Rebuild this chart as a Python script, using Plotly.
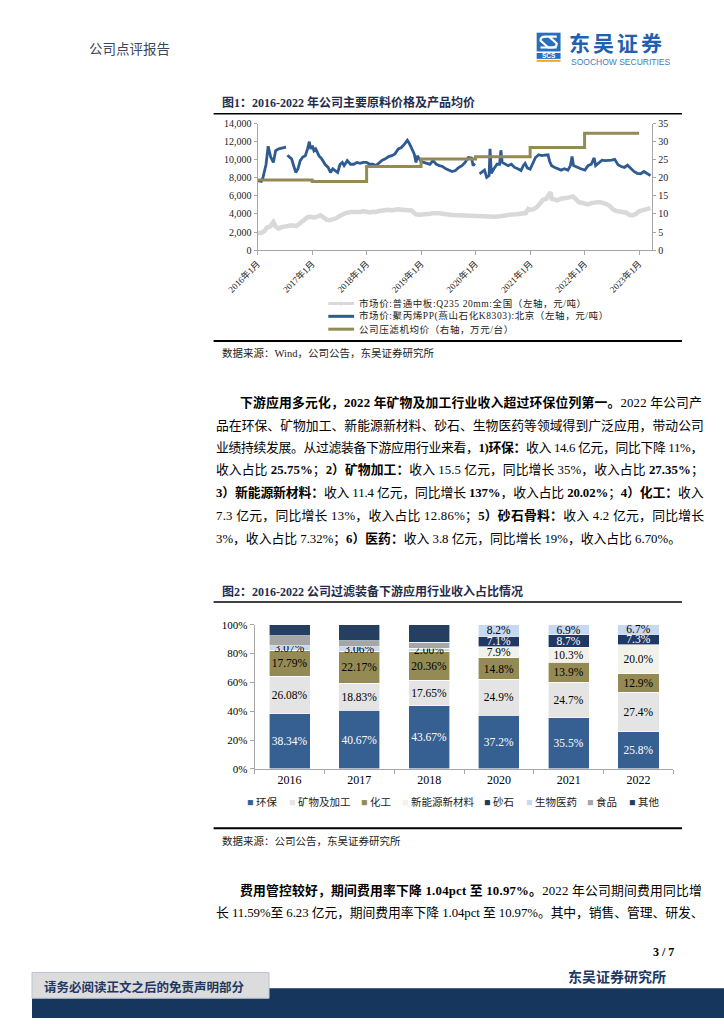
import re
import plotly.graph_objects as go

W, H = 724, 1024
SERIF = "Liberation Serif, Noto Sans CJK SC, serif"
CJK = "Noto Sans CJK SC, sans-serif"
SANS = "Liberation Sans, Arial, sans-serif"

# ---------------- Figure 1 data ----------------
pp_dates = [
    '2016-01-01', '2016-01-26', '2016-02-06', '2016-02-27', '2016-03-12', '2016-03-29', '2016-04-16',
    '2016-05-01', '2016-05-22', '2016-06-12', '2016-07-10', '2016-07-15', '2016-07-19', '2016-08-16',
    '2016-08-27', '2016-09-13', '2016-09-28', '2016-10-13', '2016-10-30', '2016-11-16', '2016-12-01',
    '2016-12-13', '2016-12-22',
    '2017-01-03', '2017-01-13', '2017-01-25', '2017-02-15', '2017-03-06', '2017-03-28', '2017-04-18',
    '2017-05-04', '2017-05-19', '2017-06-04', '2017-06-21', '2017-07-07', '2017-07-22', '2017-08-03',
    '2017-08-24', '2017-09-15', '2017-10-06', '2017-10-28', '2017-11-18', '2017-12-09',
    '2018-01-01', '2018-01-22', '2018-02-12', '2018-03-04', '2018-03-25', '2018-04-16', '2018-05-07',
    '2018-05-28', '2018-06-19', '2018-07-10', '2018-08-01', '2018-08-22', '2018-09-13', '2018-10-01',
    '2018-10-16', '2018-11-01', '2018-11-16', '2018-11-28', '2018-12-07', '2018-12-28',
    '2019-01-19', '2019-02-10', '2019-03-01', '2019-03-22', '2019-04-13', '2019-05-04', '2019-05-25',
    '2019-06-16', '2019-07-07', '2019-07-28', '2019-08-19', '2019-09-11', '2019-10-02', '2019-10-23',
    '2019-11-14', '2019-12-05', '2019-12-16', '2019-12-27',
    '2020-01-12', '2020-01-28', '2020-02-12', '2020-03-01', '2020-03-16', '2020-04-01', '2020-04-07',
    '2020-04-16', '2020-05-03', '2020-05-24', '2020-06-10', '2020-06-19', '2020-06-28', '2020-07-16',
    '2020-08-07', '2020-08-28', '2020-09-19', '2020-10-10', '2020-11-01', '2020-11-16', '2020-11-28',
    '2020-12-13',
    '2021-01-01', '2021-01-19', '2021-02-06', '2021-02-27', '2021-03-19', '2021-04-10', '2021-05-01',
    '2021-05-12', '2021-05-25', '2021-06-16', '2021-07-07', '2021-07-28', '2021-08-19', '2021-09-11',
    '2021-09-28', '2021-10-09', '2021-10-19', '2021-11-10', '2021-12-06',
    '2022-01-03', '2022-01-24', '2022-02-15', '2022-03-06', '2022-03-16', '2022-04-07', '2022-04-28',
    '2022-05-19', '2022-06-10', '2022-07-01', '2022-07-22', '2022-08-13', '2022-09-03', '2022-09-25',
    '2022-10-16', '2022-11-07', '2022-11-28', '2022-12-19',
    '2023-01-12', '2023-02-03', '2023-02-24', '2023-03-19',
]
pp_values = [
    7700, 7600, 8000, 9500, 11500, 10300, 9700, 11000, 11200, 11300, 11400, None, 10500, 10100,
    9500, 8600, 9000, 9900, 10300, 10450, 11200, 12000, 11200,
    11550, 11000, 11200, 10450, 10100, 9500, 9150, 8600, 9000, 8800, 8600, 9500, 9700, 9350,
    9900, 9500, 9500, 9700, 9600, 9700,
    9700, 9500, 9500, 9350, 9700, 9950, 10100, 10350, 10450, 10650, 11200, 11350, 11750, 12150,
    11750, 11200, 10650, 9700, 10450, 9900,
    9700, 9600, 9500, 9900, 9500, 9350, 9250, 9000, 8850, 8700, 8800, 9150, 9350, 9700,
    10250, 10200, 9350, 9600,
    None, 8450, 8600, 8850, 8050, 8250, 11200, 8500, 9000, 9500, 9500, 11050, 9700, 9500,
    9350, 9500, 9150, 9000, 8800, 9350, 9600, 9100,
    8950, 9600, 10250, 10550, 10450, 10500, 10550, 9800, 9350, 9150, 9000, 8850, 9000, 8850,
    9350, 10350, 9350, 9150, 9000,
    8850, 9350, 9500, 10200, 9350, 9700, 9950, 9900, 9900, 9950, 10050, 9450, 9250, 9150,
    9400, 9000, 8700, 8500,
    8450, 8700, 8500, 8250,
]

plate_dates = [
    '2016-01-01', '2016-01-26', '2016-02-16', '2016-03-04', '2016-03-25', '2016-04-16', '2016-05-01',
    '2016-05-22', '2016-06-12', '2016-07-14', '2016-08-16', '2016-09-17', '2016-10-08', '2016-10-30',
    '2016-12-01', '2016-12-22',
    '2017-01-13', '2017-02-04', '2017-02-25', '2017-03-16', '2017-04-07', '2017-04-28', '2017-05-19',
    '2017-06-10', '2017-07-01', '2017-07-22', '2017-08-13', '2017-09-15', '2017-10-16', '2017-11-18',
    '2017-12-09',
    '2018-01-01', '2018-01-22', '2018-02-12', '2018-03-04', '2018-03-25', '2018-04-16', '2018-05-07',
    '2018-05-28', '2018-06-19', '2018-07-10', '2018-08-01', '2018-08-22', '2018-09-13', '2018-10-04',
    '2018-10-25', '2018-11-13', '2018-11-28', '2018-12-19',
    '2019-01-10', '2019-02-10', '2019-03-01', '2019-03-22', '2019-04-13', '2019-05-04', '2019-05-25',
    '2019-06-16', '2019-07-07', '2019-07-28', '2019-09-11', '2019-10-23', '2019-12-05',
    '2020-01-18', '2020-03-01', '2020-04-12', '2020-05-13', '2020-06-15', '2020-07-16', '2020-08-18',
    '2020-09-30', '2020-11-12', '2020-12-03', '2020-12-19',
    '2021-01-04', '2021-01-25', '2021-02-15', '2021-03-07', '2021-03-28', '2021-04-19', '2021-05-01',
    '2021-05-18', '2021-05-25', '2021-06-13', '2021-07-04', '2021-07-25', '2021-08-16', '2021-09-06',
    '2021-09-28', '2021-10-15', '2021-11-01', '2021-11-22', '2021-12-13',
    '2022-01-03', '2022-01-24', '2022-02-15', '2022-03-06', '2022-03-28', '2022-04-18', '2022-05-09',
    '2022-06-01', '2022-06-22', '2022-07-13', '2022-08-03', '2022-08-25', '2022-09-15', '2022-10-07',
    '2022-10-28', '2022-11-19', '2022-12-10',
    '2023-01-01', '2023-01-22', '2023-02-13', '2023-03-04', '2023-03-19',
]
plate_values = [
    1900, 1900, 2100, 2500, 2600, 3100, 2600, 2400, 2550, 2700, 2750, 2650, 2900, 3200, 3650, 3700,
    3600, 3700, 3850, 3650, 3370, 3300, 3370, 3520, 3740, 3920, 4100, 4210, 4180, 4210, 4320,
    4180, 4180, 4250, 4210, 4320, 4400, 4400, 4470, 4400, 4470, 4510, 4470, 4400, 4400, 4400,
    4210, 3960, 3920,
    3920, 3960, 4030, 4070, 4100, 4070, 4030, 3960, 3920, 3890, 3850, 3810, 3810,
    3780, 3700, 3670, 3700, 3740, 3850, 3920, 3960, 4000, 4100, 4580,
    4470, 4540, 4760, 5130, 5570, 5680, 6050, 6410, 5680, 5570, 5500, 5680, 5680, 5790, 5860,
    5940, 5680, 5310, 5240,
    5130, 5060, 5200, 5280, 5310, 5310, 5200, 5060, 4840, 4470, 4320, 4250, 4210, 4140, 3900,
    3850, 4000,
    4290, 4400, 4470, 4540, 4650,
]

press_dates = ['2016-01-01', '2017-01-01', '2018-01-01', '2019-01-01', '2020-01-01',
               '2021-01-01', '2022-01-01', '2023-01-01']
press_values = [19.4, 19.0, 23.1, 25.2, 25.8, 28.4, 32.3, 32.3]

year_ticks = ['2016-01-01', '2017-01-01', '2018-01-01', '2019-01-01', '2020-01-01',
              '2021-01-01', '2022-01-01', '2023-01-01']
year_tick_labels = ['2016年1月', '2017年1月', '2018年1月', '2019年1月', '2020年1月',
                    '2021年1月', '2022年1月', '2023年1月']
fig1_names = ['市场价:普通中板:Q235 20mm:全国（左轴，元/吨）',
              '市场价:聚丙烯PP(燕山石化K8303):北京（左轴，元/吨）',
              '公司压滤机均价（右轴，万元/台）']

# ---------------- Figure 2 data ----------------
years = ['2016', '2017', '2018', '2020', '2021', '2022']
seg_huanbao = [38.34, 40.67, 43.67, 37.2, 35.5, 25.8]
seg_kuangwu = [26.08, 18.83, 17.65, 24.9, 24.7, 27.4]
seg_huagong = [17.79, 22.17, 20.36, 14.8, 13.9, 12.9]
seg_xinnengyuan = [0, 0, 0, 7.9, 10.3, 20.0]
seg_shashi = [0, 0, 0, 7.1, 8.7, 7.3]
seg_shengwu = [3.07, 3.06, 2.00, 8.2, 6.9, 6.7]
seg_shipin = [7.0, 4.1, 4.0, 0, 0, 0]
seg_qita = [7.7, 11.2, 12.3, 0, 0, 0]
segment_names = ['环保', '矿物及加工', '化工', '新能源新材料', '砂石', '生物医药', '食品', '其他']
segments = [seg_huanbao, seg_kuangwu, seg_huagong, seg_xinnengyuan, seg_shashi,
            seg_shengwu, seg_shipin, seg_qita]
labelled = [True, True, True, True, True, True, False, False]
label_decimals = [2, 2, 2, 1, 1, 1]

# ---------------- styles ----------------
seg_colors = ['#376092', '#E4E4E4', '#948A54', '#F2F2EB', '#1F3864', '#C6D9F1', '#A6A6A6', '#243F60']
seg_text_colors = ['#FFFFFF', '#000000', '#000000', '#000000', '#FFFFFF', '#000000', '#000000', '#000000']
line_colors = ['#D9D9D9', '#2F5B93', '#948A54']
AX = '#A6A6A6'


def px(x):
    return x / W


def py(y):
    return 1 - y / H


fig = go.Figure()

# Figure 1 traces
fig.add_trace(go.Scatter(x=plate_dates, y=plate_values, name=fig1_names[0], mode='lines',
                         line=dict(color=line_colors[0], width=4.5), xaxis='x', yaxis='y'))
fig.add_trace(go.Scatter(x=pp_dates, y=pp_values, name=fig1_names[1], mode='lines',
                         line=dict(color=line_colors[1], width=2.8), xaxis='x', yaxis='y'))
fig.add_trace(go.Scatter(x=press_dates, y=press_values, name=fig1_names[2], mode='lines',
                         line=dict(color=line_colors[2], width=3, shape='hv'), xaxis='x', yaxis='y2'))

# Figure 2 traces
for i, (name, vals) in enumerate(zip(segment_names, segments)):
    if labelled[i]:
        texts = [(f"{v:.{d}f}%" if v > 0 else '') for v, d in zip(vals, label_decimals)]
    else:
        texts = ['' for _ in vals]
    fig.add_trace(go.Bar(
        x=years, y=vals, name=name, text=texts, textposition='inside',
        insidetextanchor='middle', constraintext='none', textangle=0,
        textfont=dict(family=SERIF, size=11.5, color=seg_text_colors[i]),
        marker=dict(color=seg_colors[i], line=dict(color='#FFFFFF', width=0.6)),
        xaxis='x3', yaxis='y3', hoverinfo='skip'))

tickfont_num = dict(family=SERIF, size=10, color='#222222')

fig.update_layout(
    width=W, height=H, margin=dict(l=0, r=0, t=0, b=0),
    paper_bgcolor='white', plot_bgcolor='white', showlegend=False,
    barmode='stack', bargap=0.41,
    xaxis=dict(domain=[px(236), px(649)], anchor='y', type='date',
               range=['2016-01-01', '2023-03-31'], tickvals=year_ticks, ticktext=year_tick_labels,
               tickangle=-45, ticks='outside', ticklen=4, tickcolor=AX, showline=True, linecolor=AX,
               showgrid=False, zeroline=False,
               tickfont=dict(family=SERIF, size=9, color='#222222')),
    yaxis=dict(domain=[py(247), py(119)], anchor='x', range=[0, 14000], dtick=2000, tickformat=',d',
               ticks='outside', ticklen=3, tickcolor=AX, showline=True, linecolor=AX,
               showgrid=False, zeroline=False, tickfont=tickfont_num),
    yaxis2=dict(overlaying='y', side='right', anchor='x', range=[0, 35], dtick=5,
                ticks='outside', ticklen=3, tickcolor=AX, showline=True, linecolor=AX,
                showgrid=False, zeroline=False, tickfont=tickfont_num),
    xaxis3=dict(domain=[px(233), px(671)], anchor='y3', type='category',
                ticks='outside', tickson='boundaries', ticklen=4, tickcolor=AX,
                showline=True, linecolor=AX, showgrid=False, zeroline=False,
                tickfont=dict(family=SERIF, size=12, color='#000000')),
    yaxis3=dict(domain=[py(772), py(626)], anchor='x3', range=[0, 100], dtick=20, ticksuffix='%',
                ticks='outside', ticklen=4, tickcolor=AX, showline=True, linecolor=AX,
                showgrid=False, zeroline=False,
                tickfont=dict(family=SERIF, size=11, color='#000000')),
)

ann = []
shapes = []


def text(x, y, s, size, color='#000000', family=SERIF, anchor='left'):
    ann.append(dict(x=px(x), y=py(y), xref='paper', yref='paper', text=s, showarrow=False,
                    xanchor=anchor, yanchor='middle', font=dict(family=family, size=size, color=color)))


def hline(x0, x1, y, color='#000000', width=1.5):
    shapes.append(dict(type='line', xref='paper', yref='paper', x0=px(x0), x1=px(x1),
                       y0=py(y), y1=py(y), line=dict(color=color, width=width)))


def rect(x0, y0, x1, y1, fill, line_color=None, line_width=0):
    shapes.append(dict(type='rect', xref='paper', yref='paper', x0=px(x0), x1=px(x1),
                       y0=py(y1), y1=py(y0), fillcolor=fill, layer='below',
                       line=dict(color=line_color or fill, width=line_width)))


# rough glyph advance widths (em) used to justify body lines
REG = {'.': 0.25, '%': 0.833, ' ': 0.25, ')': 0.333, '(': 0.333, 'p': 0.5, 'c': 0.444, 't': 0.278}
BOLD = {'.': 0.25, '%': 1.0, ' ': 0.25, ')': 0.333, '(': 0.333, 'p': 0.556, 'c': 0.444, 't': 0.333}


def line_metrics(s):
    width, count = 0.0, 0
    for part, bold in re.findall(r'<b>(.*?)</b>|([^<]+)', s) and [
            (m.group(1) if m.group(1) is not None else m.group(2), m.group(1) is not None)
            for m in re.finditer(r'<b>(.*?)</b>|([^<]+)', s)]:
        table = BOLD if bold else REG
        for ch in part:
            count += 1
            if ord(ch) > 0x2000:
                width += 1.0
            elif ch.isdigit():
                width += 0.5
            else:
                width += table.get(ch, 0.5)
    return width, count


BODY = 12.8


def body_line(x0, y, s, justify=True, right=678):
    if justify:
        w_em, n = line_metrics(s)
        ls = (right - x0 - w_em * BODY) / max(n - 1, 1)
        ls = max(-0.6, min(ls, 3.0))
        s = f"<span style='letter-spacing:{ls:.2f}px'>{s}</span>"
    text(x0, y, s, BODY)


# ---------- header ----------
text(58, 43, '公司点评报告', 13.5, '#3A4660', CJK)
rect(528, 27, 553, 46, '#2A6EBB')
shapes.append(dict(type='path', xref='paper', yref='paper', layer='above',
                   path=f"M {px(549)},{py(31)} L {px(537)},{py(31)} Q {px(532)},{py(31)} {px(532)},{py(35)} "
                        f"L {px(540)},{py(42)} L {px(549)},{py(42)}",
                   line=dict(color='#FFFFFF', width=2.2)))
shapes.append(dict(type='path', xref='paper', yref='paper', layer='above',
                   path=f"M {px(532)},{py(42)} L {px(544)},{py(42)} Q {px(549)},{py(42)} {px(549)},{py(38)} "
                        f"L {px(541)},{py(31)}",
                   line=dict(color='#FFFFFF', width=2.2)))
rect(528, 47.5, 553, 53.5, '#2A6EBB')
text(540.5, 50.5, '<b>SCS</b>', 6.5, '#FFFFFF', SANS, 'center')
hline(528, 553, 55.5, '#F5A623', 2)
text(560, 36, "<b><span style='letter-spacing:3px'>东吴证券</span></b>", 21, '#2160AE', CJK)
text(562, 56.5, 'SOOCHOW SECURITIES', 8.5, '#3B7DC4', SANS)

# ---------- figure 1 ----------
text(197, 98, '<b>图1：2016-2022 年公司主要原料价格及产品均价</b>', 12, '#1F2D4D')
hline(190, 680, 109, '#000000', 1.5)
legend1_rows = [301, 314, 327]
for name, color, yy in zip(fig1_names, line_colors, legend1_rows):
    hline(310, 337, yy, color, 3)
    text(340, yy, f"<span style='letter-spacing:0.6px'>{name}</span>", 9.5, '#222222')
shapes.append(dict(type='circle', xref='paper', yref='paper', x0=px(321.5), x1=px(325.5),
                   y0=py(303), y1=py(299), fillcolor=line_colors[0], line=dict(color=line_colors[0], width=0)))
hline(190, 680, 339, '#000000', 2)
text(197, 351, '数据来源：Wind，公司公告，东吴证券研究所', 10.5, '#222222')

# ---------- paragraph 1 ----------
para1 = [
    (216, '<b>下游应用多元化，2022 年矿物及加工行业收入超过环保位列第一。</b>2022 年公司产', True),
    (190, '品在环保、矿物加工、新能源新材料、砂石、生物医药等领域得到广泛应用，带动公司', True),
    (190, '业绩持续发展。从过滤装备下游应用行业来看，<b>1)环保：</b>收入 14.6 亿元，同比下降 11%，', True),
    (190, '收入占比 <b>25.75%</b>；<b>2）矿物加工：</b>收入 15.5 亿元，同比增长 35%，收入占比 <b>27.35%</b>；', True),
    (190, '<b>3）新能源新材料：</b>收入 11.4 亿元，同比增长 <b>137%</b>，收入占比 <b>20.02%</b>；<b>4）化工：</b>收入', True),
    (190, '7.3 亿元，同比增长 13%，收入占比 12.86%；<b>5）砂石骨料：</b>收入 4.2 亿元，同比增长', True),
    (190, '3%，收入占比 7.32%；<b>6）医药：</b>收入 3.8 亿元，同比增长 19%，收入占比 6.70%。', False),
]
for i, (x0, s, just) in enumerate(para1):
    body_line(x0, 401 + 23 * i, s, just)

# ---------- figure 2 ----------
text(197, 592, '<b>图2：2016-2022 公司过滤装备下游应用行业收入占比情况</b>', 12, '#1F2D4D')
hline(190, 680, 603, '#000000', 1.5)
LEG = 10.5
entry_w = [LEG + 3 + LEG * len(n) for n in segment_names]
gap = 9
total = sum(entry_w) + gap * (len(entry_w) - 1)
cursor = 440 - total / 2
for name, color, ew in zip(segment_names, seg_colors, entry_w):
    text(cursor, 805, f"<span style='color:{color}'>■</span>\u00a0{name}", LEG, '#222222')
    cursor += ew + gap
hline(190, 680, 832, '#000000', 2)
text(197, 845, '数据来源：公司公告，东吴证券研究所', 10.5, '#222222')

# ---------- paragraph 2 ----------
body_line(216, 895, '<b>费用管控较好，期间费用率下降 1.04pct 至 10.97%。</b>2022 年公司期间费用同比增')
body_line(190, 917, '长 11.59%至 6.23 亿元，期间费用率下降 1.04pct 至 10.97%。其中，销售、管理、研发、')

# ---------- footer ----------
text(674, 957, '<b>3 / 7</b>', 12, '#000000', SERIF, 'right')
text(612, 982, '<b>东吴证券研究所</b>', 14, '#1F3864', CJK, 'center')
rect(0, 994, 724, 1024, '#17365D')
rect(0, 978, 248, 1004, '#DCDCDC', '#B8C4D4', 1)
text(10, 992, '<b>请务必阅读正文之后的免责声明部分</b>', 12.5, '#1F3864', CJK)

fig.update_layout(annotations=ann, shapes=shapes)

fig.write_html("out.html", include_plotlyjs=True, full_html=True,
               config={'displayModeBar': False})

with open("out.html", encoding="utf-8") as f:
    html = f.read()
html = html.replace("<head>", "<head><style>html,body{margin:0;padding:0;overflow:hidden;}</style>", 1)
with open("out.html", "w", encoding="utf-8") as f:
    f.write(html)
